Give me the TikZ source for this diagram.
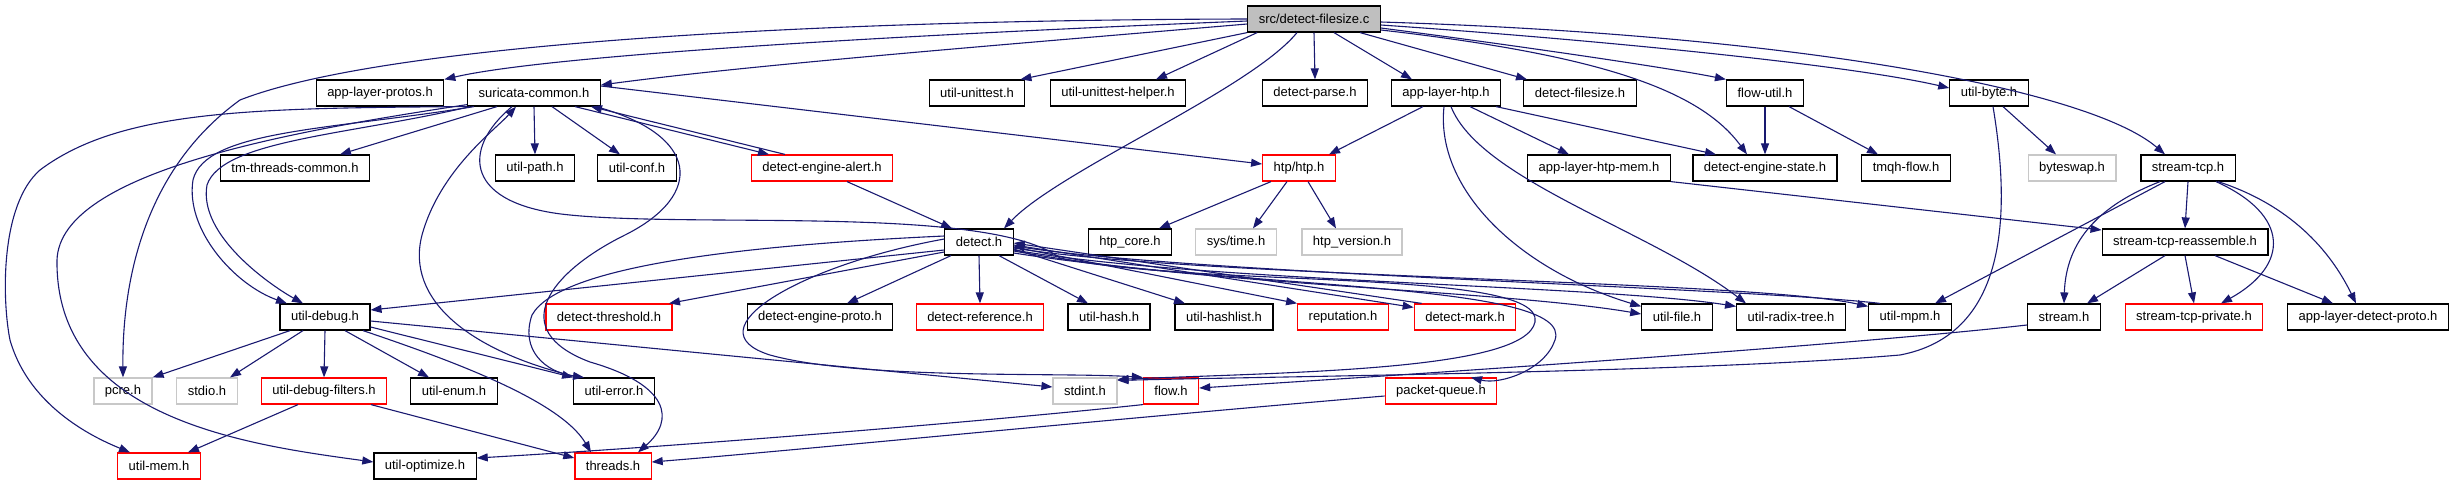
\documentclass[tikz,border=0pt]{standalone}
\usepackage{fontspec}
\setmainfont{Liberation Sans}
\usepackage{tikz}
\usetikzlibrary{arrows.meta,positioning}
\usepackage{xcolor}
\definecolor{edgeblue}{HTML}{191970}
\definecolor{rootgray}{HTML}{BFBFBF}
\definecolor{extgray}{HTML}{C8C8C8}
\definecolor{hdrred}{HTML}{FF0000}

\begin{document}
\begin{tikzpicture}[x=1pt, y=-1pt,
	hdr/.style={draw=black, line width=1.2pt, minimum height=26pt, inner xsep=11pt, inner ysep=0pt, font=\fontsize{13}{15}\selectfont},
	hdrtrunc/.style={hdr, draw=hdrred},
	hdrext/.style={hdr, draw=extgray},
	rootfile/.style={hdr, fill=rootgray},
	dep/.style={-{Triangle[length=11pt,width=8pt]}, draw=edgeblue, line width=1.1pt}]
			\useasboundingbox (0,0) rectangle (2452,485);
			
			% rank 0 and 1
			\node[rootfile] (src) at (1314,19) {src/detect-filesize.c};
			\node[hdr] (protos) at (380,93) {app-layer-protos.h};
			\node[hdr] (common) at (534,93) {suricata-common.h};
			\node[hdr] (unittest) at (977,93) {util-unittest.h};
			\node[hdr] (unithelper) at (1118,93) {util-unittest-helper.h};
			\node[hdr] (parse) at (1315,93) {detect-parse.h};
			\node[hdr] (apphtp) at (1446,93) {app-layer-htp.h};
			\node[hdr] (filesizeh) at (1580,93) {detect-filesize.h};
			\node[hdr] (flowutil) at (1765,93) {flow-util.h};
			\node[hdr] (byte) at (1989,93) {util-byte.h};
			
			% rank 2
			\node[hdr] (tmthreads) at (295,168) {tm-threads-common.h};
			\node[hdr] (path) at (535,168) {util-path.h};
			\node[hdr] (conf) at (637,168) {util-conf.h};
			\node[hdrtrunc] (alert) at (822,168) {detect-engine-alert.h};
			\node[hdrtrunc] (htp) at (1299,168) {htp/htp.h};
			\node[hdr] (htpmem) at (1599,168) {app-layer-htp-mem.h};
			\node[hdr] (state) at (1765,168) {detect-engine-state.h};
			\node[hdr] (tmqh) at (1906,168) {tmqh-flow.h};
			\node[hdrext] (byteswap) at (2072,168) {byteswap.h};
			\node[hdr] (streamtcp) at (2188,168) {stream-tcp.h};
			
			% rank 3
			\node[hdr] (detect) at (979,242) {detect.h};
			\node[hdr] (htpcore) at (1130,242) {htp\_core.h};
			\node[hdrext] (systime) at (1236,242) {sys/time.h};
			\node[hdrext] (htpversion) at (1352,242) {htp\_version.h};
			\node[hdr] (reassemble) at (2185,242) {stream-tcp-reassemble.h};
			
			% rank 4
			\node[hdr] (debug) at (325,317) {util-debug.h};
			\node[hdrtrunc] (threshold) at (609,317) {detect-threshold.h};
			\node[hdr] (engproto) at (820,317) {detect-engine-proto.h};
			\node[hdrtrunc] (reference) at (980,317) {detect-reference.h};
			\node[hdr] (hash) at (1109,317) {util-hash.h};
			\node[hdr] (hashlist) at (1224,317) {util-hashlist.h};
			\node[hdrtrunc] (reputation) at (1343,317) {reputation.h};
			\node[hdrtrunc] (mark) at (1465,317) {detect-mark.h};
			\node[hdr] (file) at (1677,317) {util-file.h};
			\node[hdr] (radix) at (1791,317) {util-radix-tree.h};
			\node[hdr] (mpm) at (1910,317) {util-mpm.h};
			\node[hdr] (stream) at (2064,317) {stream.h};
			\node[hdrtrunc] (tcpprivate) at (2194,317) {stream-tcp-private.h};
			\node[hdr] (detectproto) at (2368,317) {app-layer-detect-proto.h};
			
			% rank 5 and 6
			\node[hdrext] (pcre) at (123,391) {pcre.h};
			\node[hdrext] (stdio) at (207,391) {stdio.h};
			\node[hdrtrunc] (filters) at (324,391) {util-debug-filters.h};
			\node[hdr] (enum) at (454,391) {util-enum.h};
			\node[hdr] (error) at (614,391) {util-error.h};
			\node[hdrext] (stdint) at (1085,391) {stdint.h};
			\node[hdrtrunc] (flow) at (1171,391) {flow.h};
			\node[hdrtrunc] (pqueue) at (1441,391) {packet-queue.h};
			\node[hdrtrunc] (mem) at (159,466) {util-mem.h};
			\node[hdr] (optimize) at (425,466) {util-optimize.h};
			\node[hdrtrunc] (threads) at (613,466) {threads.h};
			
			% includes of the source file
			\draw[dep] (src.west) .. controls (800,20) and (380,45) .. (240,100) .. controls (150,165) and (122,270) .. (pcre.north);
			\draw[dep] ([yshift=-2pt]src.west) .. controls (900,35) and (550,55) .. (protos.north east);
			\draw[dep] ([yshift=-5pt]src.west) .. controls (1000,45) and (750,65) .. ([yshift=8pt]common.east);
			\draw[dep] (src.south west) -- ([xshift=-5pt]unittest.north east);
			\draw[dep] ([xshift=10pt]src.south west) -- ([xshift=38pt]unithelper.north);
			\draw[dep] ([xshift=-17pt]src.south) .. controls (1250,90) and (1060,170) .. ([xshift=25pt]detect.north);
			\draw[dep] (src.south) -- (parse.north);
			\draw[dep] ([xshift=20pt]src.south) -- ([xshift=-34pt]apphtp.north);
			\draw[dep] ([xshift=46pt]src.south) -- ([xshift=-53pt]filesizeh.north);
			\draw[dep] ([yshift=-9pt]src.east) .. controls (1550,50) and (1680,70) .. (flowutil.north west);
			\draw[dep] ([yshift=-6pt]src.east) .. controls (1600,40) and (1850,65) .. ([yshift=5pt]byte.west);
			\draw[dep] ([yshift=-3pt]src.east) .. controls (1800,35) and (2090,90) .. ([xshift=-23pt]streamtcp.north);
			\draw[dep] ([yshift=-11pt]src.east) .. controls (1600,55) and (1700,90) .. ([xshift=-18pt]state.north);
			
			% suricata-common.h
			\draw[dep] ([xshift=-37pt]common.south) -- ([xshift=45pt]tmthreads.north);
			\draw[dep] (common.south) -- (path.north);
			\draw[dep] ([xshift=18pt]common.south) -- ([xshift=-17pt]conf.north);
			\draw[dep] ([xshift=41pt]common.south) -- ([xshift=-53pt]alert.north);
			\draw[dep] ([xshift=-37pt]alert.north) -- ([xshift=57pt]common.south);
			\draw[dep] ([yshift=7pt]common.east) -- ([yshift=4pt]htp.west);
			\draw[dep] ([xshift=-60pt]common.south) .. controls (330,130) and (205,130) .. (193,180) .. controls (185,230) and (235,285) .. ([xshift=-38pt]debug.north);
			\draw[dep] ([xshift=-64pt]common.south) .. controls (350,135) and (222,140) .. (207,185) .. controls (198,235) and (270,285) .. ([xshift=-22pt]debug.north);
			\draw[dep] (common.south west) .. controls (250,108) and (120,110) .. (40,170) .. controls (0,205) and (2,300) .. (10,340) .. controls (30,410) and (100,440) .. ([xshift=-29pt]mem.north);
			\draw[dep] ([yshift=2pt]common.south west) .. controls (300,130) and (60,170) .. (57,260) .. controls (55,420) and (250,445) .. ([yshift=4pt]optimize.west);
			\draw[dep] ([xshift=-5pt]common.south east) .. controls (700,135) and (705,195) .. (625,235) .. controls (550,272) and (505,330) .. (590,362) .. controls (670,385) and (675,420) .. ([xshift=25pt]threads.north);
			\draw[dep] ([xshift=-35pt]error.north) .. controls (470,352) and (405,300) .. (422,235) .. controls (440,170) and (495,130) .. ([xshift=-18pt]common.south);
			\draw[dep] ([xshift=-22pt]common.south) .. controls (460,150) and (465,205) .. (570,215) .. controls (700,228) and (990,205) .. (1060,258) .. controls (1200,288) and (1545,268) .. (1535,322) .. controls (1525,370) and (1300,372) .. ([yshift=-2pt]stdint.north east);
			
			% htp and flow side
			\draw[dep] ([xshift=25pt]alert.south) -- ([xshift=-27pt]detect.north);
			\draw[dep] ([xshift=-23pt]apphtp.south) -- ([xshift=30pt]htp.north);
			\draw[dep] ([xshift=24pt]apphtp.south) -- ([xshift=-30pt]htpmem.north);
			\draw[dep] ([xshift=50pt]apphtp.south) -- ([xshift=-49pt]state.north);
			\draw[dep] ([xshift=-2pt]apphtp.south) .. controls (1435,190) and (1520,270) .. ([yshift=-3pt]file.north west);
			\draw[dep] ([xshift=5pt]apphtp.south) .. controls (1480,180) and (1650,230) .. ([xshift=-45pt]radix.north);
			\draw[dep] (htpmem.south east) -- ([yshift=12pt]reassemble.west);
			\draw[dep] ([xshift=-28pt]htp.south) -- ([xshift=29pt]htpcore.north);
			\draw[dep] ([xshift=-12pt]htp.south) -- ([xshift=17pt]systime.north);
			\draw[dep] ([xshift=9pt]htp.south) -- ([xshift=-16pt]htpversion.north);
			\draw[dep] (flowutil.south) -- (state.north);
			\draw[dep] ([xshift=24pt]flowutil.south) -- ([xshift=-28pt]tmqh.north);
			\draw[dep] ([xshift=14pt]byte.south) -- ([xshift=-16pt]byteswap.north);
			\draw[dep] ([xshift=4pt]byte.south) .. controls (2012,220) and (2005,335) .. (1900,355) .. controls (1700,372) and (1300,376) .. ([yshift=-3pt]stdint.north east);
			
			% stream-tcp.h
			\draw[dep] (streamtcp.south) -- (reassemble.north);
			\draw[dep] ([xshift=-23pt]streamtcp.south) -- ([xshift=25pt]mpm.north);
			\draw[dep] ([xshift=-28pt]streamtcp.south) .. controls (2100,205) and (2066,240) .. (stream.north);
			\draw[dep] ([xshift=28pt]streamtcp.south) .. controls (2290,215) and (2290,265) .. ([xshift=27pt]tcpprivate.north);
			\draw[dep] ([xshift=30pt]streamtcp.south) .. controls (2290,205) and (2330,250) .. ([xshift=-12pt]detectproto.north);
			\draw[dep] ([xshift=-20pt]reassemble.south) -- ([xshift=23pt]stream.north);
			\draw[dep] (reassemble.south) -- (tcpprivate.north);
			\draw[dep] ([xshift=30pt]reassemble.south) -- ([xshift=-35pt]detectproto.north);
			\draw[dep] ([yshift=-8pt]stream.west) .. controls (1850,345) and (1450,372) .. ([yshift=3pt]flow.east);
			
			% detect.h
			\draw[dep] ([yshift=-8pt]detect.west) -- ([yshift=7pt]debug.east);
			\draw[dep] ([yshift=-10pt]detect.west) -- ([xshift=60pt]threshold.north);
			\draw[dep] ([xshift=-28pt]detect.south) -- ([xshift=27pt]engproto.north);
			\draw[dep] (detect.south) -- (reference.north);
			\draw[dep] ([xshift=20pt]detect.south) -- ([xshift=-21pt]hash.north);
			\draw[dep] ([yshift=-7pt]detect.east) -- ([xshift=-39pt]hashlist.north);
			\draw[dep] ([yshift=-5pt]detect.east) -- (reputation.north west);
			\draw[dep] ([yshift=-3pt]detect.east) -- ([yshift=-4pt]mark.north west);
			\draw[dep] ([xshift=8pt]mark.north west) -- ([yshift=-1pt]detect.east);
			\draw[dep] ([yshift=-9pt]detect.east) .. controls (1200,285) and (1500,290) .. ([yshift=3pt]file.west);
			\draw[dep] ([yshift=-8pt]detect.east) .. controls (1200,282) and (1600,285) .. ([yshift=-3pt]radix.north west);
			\draw[dep] ([yshift=-6pt]detect.east) .. controls (1200,278) and (1750,280) .. ([yshift=-3pt]mpm.north west);
			\draw[dep] ([xshift=12pt]mpm.north west) .. controls (1750,288) and (1200,274) .. ([yshift=-4pt]detect.east);
			\draw[dep] ([yshift=-11pt]detect.east) .. controls (1250,290) and (1575,282) .. (1555,340) .. controls (1545,370) and (1500,385) .. ([xshift=30pt]pqueue.north);
			\draw[dep] ([yshift=3pt]detect.west) .. controls (800,265) and (690,330) .. (770,355) .. controls (860,380) and (1060,372) .. (flow.north west);
			\draw[dep] ([yshift=6pt]detect.west) .. controls (750,245) and (560,265) .. (532,315) .. controls (520,350) and (545,372) .. ([xshift=-30pt]error.north);
			
			% util-debug.h
			\draw[dep] ([xshift=-35pt]debug.south) -- (pcre.north east);
			\draw[dep] ([xshift=-22pt]debug.south) -- ([xshift=23pt]stdio.north);
			\draw[dep] (debug.south) -- (filters.north);
			\draw[dep] ([xshift=20pt]debug.south) -- ([xshift=-25pt]enum.north);
			\draw[dep] ([yshift=-10pt]debug.east) -- (error.north west);
			\draw[dep] ([xshift=38pt]debug.south) .. controls (450,360) and (560,400) .. ([xshift=-22pt]threads.north);
			\draw[dep] ([yshift=-4pt]debug.east) -- ([yshift=4pt]stdint.west);
			\draw[dep] ([xshift=-26pt]filters.south) -- ([xshift=29pt]mem.north);
			\draw[dep] ([xshift=47pt]filters.south) -- ([yshift=8pt]threads.west);
			\draw[dep] (flow.south west) .. controls (1000,420) and (700,445) .. ([yshift=8pt]optimize.east);
			\draw[dep] ([yshift=-5pt]pqueue.west) .. controls (1100,420) and (800,450) .. ([yshift=4pt]threads.east);
		\end{tikzpicture}
\end{document}
